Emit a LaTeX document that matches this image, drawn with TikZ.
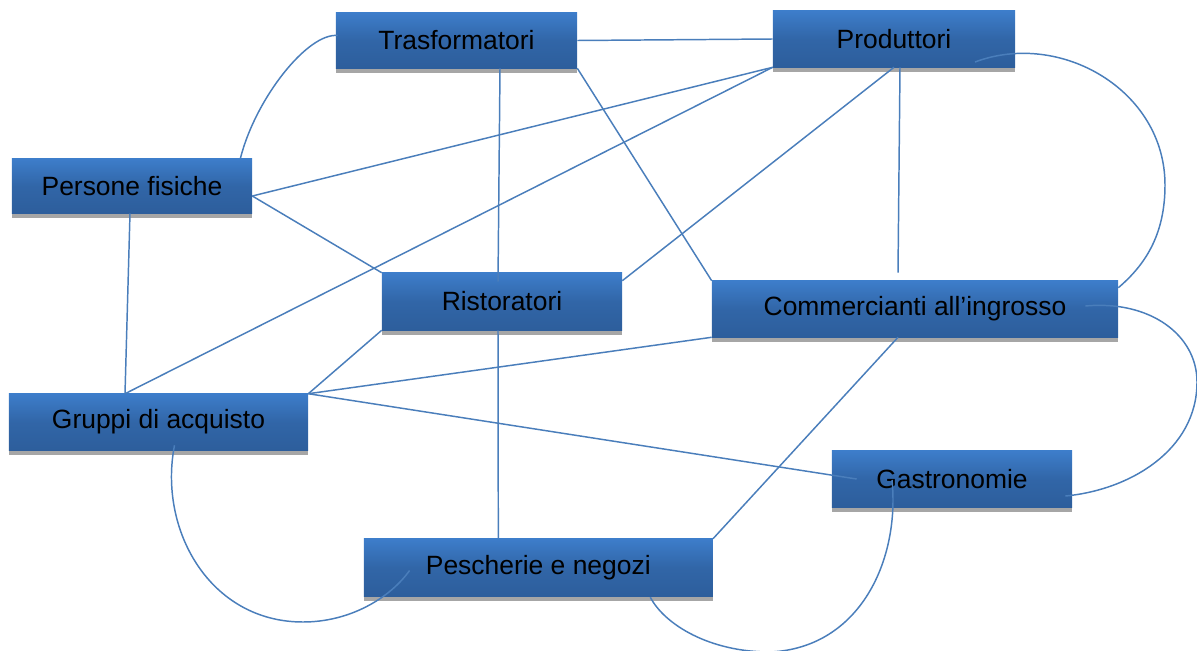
\documentclass[tikz,border=0pt]{standalone}
\usepackage{fontspec}
\setmainfont{Liberation Sans}
\usetikzlibrary{calc,shadows}
\definecolor{boxlight}{HTML}{3D7DCA}
\definecolor{boxdark}{HTML}{2D5E9C}
\definecolor{shadowgray}{HTML}{A6A6A6}
\definecolor{linkblue}{HTML}{4A7EBB}
\tikzset{
  actor/.style={rectangle, inner sep=0pt, top color=boxlight, bottom color=boxdark,
    middle color=boxdark!75!boxlight,
    general shadow={fill=shadowgray, shadow xshift=0pt, shadow yshift=-0.13cm},
    font=\fontsize{18.8}{22}\selectfont, text=black},
  link/.style={draw=linkblue, line width=1.05pt},
}
\begin{document}
\begin{tikzpicture}[x=0.025cm, y=-0.025cm]
\useasboundingbox (0,0) rectangle (1197,651);
% boxes
\node[actor, minimum width=6.025cm, minimum height=1.375cm] (tras) at (456.5,40.5) {Trasformatori};
\node[actor, minimum width=6.05cm, minimum height=1.4cm] (prod) at (894,39) {Produttori};
\node[actor, minimum width=6cm, minimum height=1.35cm] (pers) at (132,186) {Persone fisiche};
\node[actor, minimum width=6cm, minimum height=1.425cm] (rist) at (502,301.5) {Ristoratori};
\node[actor, minimum width=10.15cm, minimum height=1.4cm] (comm) at (915,309) {Commercianti all’ingrosso};
\node[actor, minimum width=7.475cm, minimum height=1.4cm] (grup) at (158.5,422) {Gruppi di acquisto};
\node[actor, minimum width=6cm, minimum height=1.4cm] (gast) at (952,479) {Gastronomie};
\node[actor, minimum width=8.72cm, minimum height=1.425cm] (pesc) at (538.3,567.5) {Pescherie e negozi};
% straight links
\draw[link] (tras.east) -- (prod.west);
\draw[link] ($(tras.south)+(43.5,0)$) -- ($(rist.north)+(-4,9)$);
\draw[link] (tras.south east) -- (comm.north west);
\draw[link] (prod.south west) -- ($(pers.east)+(0,10)$);
\draw[link] (prod.south west) -- ($(grup.north)+(-33.5,0)$);
\draw[link] (prod.south) -- ($(rist.north east)+(0,8)$);
\draw[link] ($(prod.south)+(6,0)$) -- ($(comm.north)+(-17,-8)$);
\draw[link] ($(pers.east)+(0,10)$) -- (rist.north west);
\draw[link] ($(pers.south)+(-2,0)$) -- ($(grup.north)+(-33.5,0)$);
\draw[link] (rist.south west) -- (grup.north east);
\draw[link] (comm.south west) -- (grup.north east);
\draw[link] (grup.north east) -- ($(gast.west)+(25,0)$);
\draw[link] ($(rist.south)+(-4,0)$) -- ($(pesc.north)+(-40,0)$);
\draw[link] ($(comm.south)+(-17,0)$) -- (pesc.north east);
% curved links
\draw[link] ($(pers.north east)+(-12,0)$) .. controls +(15,-60) and +(-30,-3) .. ($(tras.west)+(2,-5)$);
\draw[link] ($(prod.center)+(81,23)$) .. controls (1060,30) and (1165,90) .. (1165,185)
  .. controls (1165,235) and (1145,265) .. ($(comm.north east)+(0,7)$);
\draw[link] ($(comm.east)+(-33,-3)$) .. controls (1150,300) and (1197,335) .. (1197,382)
  .. controls (1197,450) and (1130,490) .. ($(gast.east)+(-7,17)$);
\draw[link] ($(grup.south)+(16,-5)$) .. controls (158,530) and (210,622) .. (303,622)
  .. controls (350,622) and (390,598) .. ($(pesc.west)+(46,3)$);
\draw[link] ($(gast.center)+(-60,1)$) .. controls (900,560) and (860,648) .. (770,652)
  .. controls (710,652) and (665,625) .. ($(pesc.south)+(112,1)$);
\end{tikzpicture}
\end{document}
